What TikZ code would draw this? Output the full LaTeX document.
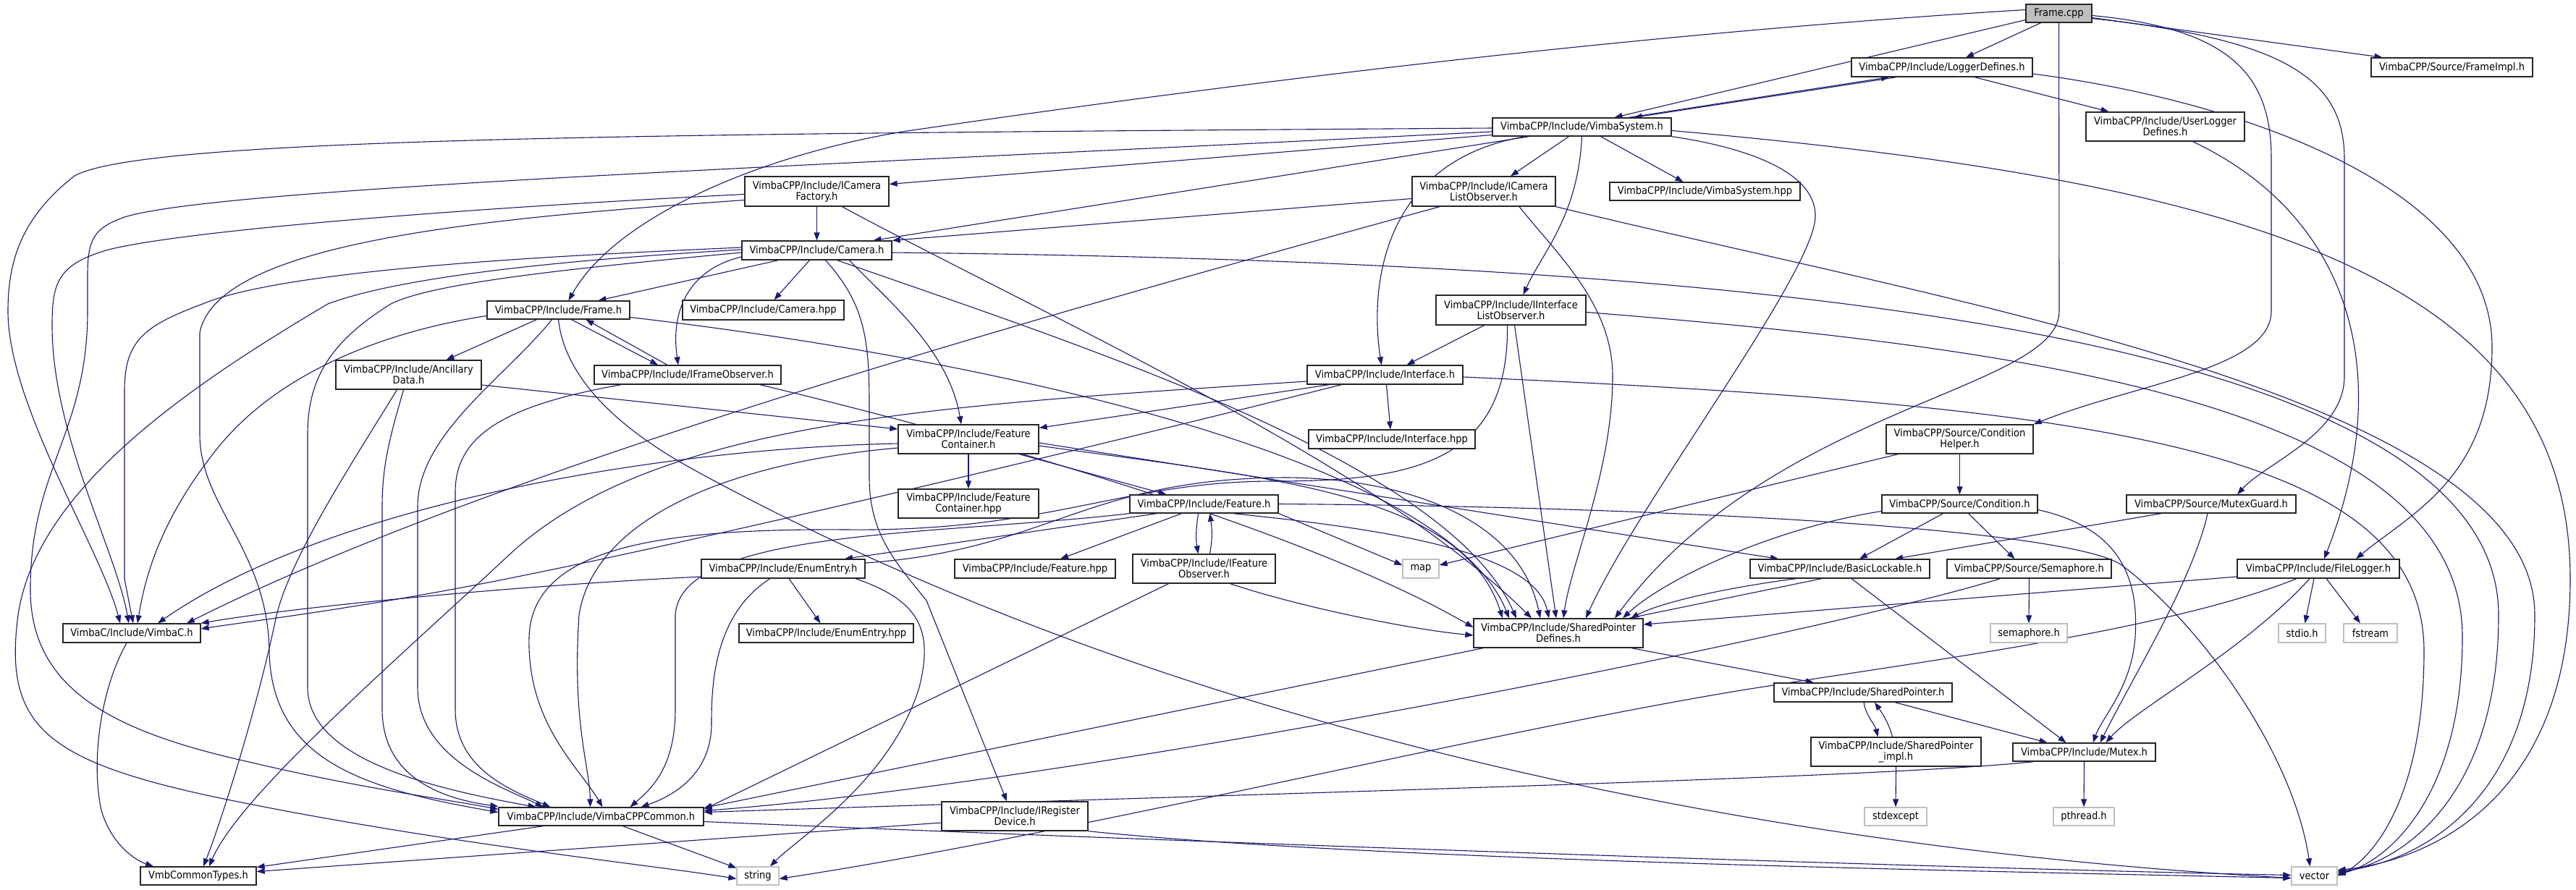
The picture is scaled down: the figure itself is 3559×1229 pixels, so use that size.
\documentclass[tikz,border=0pt]{standalone}
\usepackage{fontspec}
\usetikzlibrary{arrows.meta}
\newfontfamily\dxfont{DejaVu Sans Condensed}
\definecolor{edgec}{HTML}{191970}
\definecolor{gbord}{HTML}{BFBFBF}
\definecolor{gfill}{HTML}{BFBFBF}
\pgfdeclarelayer{bg}
\pgfsetlayers{bg,main}
\tikzset{
  nd/.style={draw=black!85, line width=1.3pt, fill=white, inner sep=0pt, align=center,
    font=\dxfont\fontsize{14.5}{15}\selectfont},
  gnd/.style={nd, draw=gbord},
  e/.style={draw=edgec, line width=1.1pt, -{Triangle[length=11pt,width=8pt]}},
}
\begin{document}
\begin{tikzpicture}[x=1pt,y=-1pt]
\useasboundingbox (0,0) rectangle (3559,1229);
% nodes
\node[nd,fill=gfill,minimum width=91pt,minimum height=25pt] (F) at (2844.5,18.5) {Frame.cpp};
\node[nd,minimum width=250pt,minimum height=26pt] (LD) at (2683,93) {VimbaCPP/Include/LoggerDefines.h};
\node[nd,minimum width=219pt,minimum height=40pt] (ULD) at (2991.5,175) {VimbaCPP/Include/UserLogger\\Defines.h};
\node[nd,minimum width=223pt,minimum height=26pt] (FI) at (3387.5,93) {VimbaCPP/Source/FrameImpl.h};
\node[nd,minimum width=247pt,minimum height=25pt] (VS) at (2185.5,175.5) {VimbaCPP/Include/VimbaSystem.h};
\node[nd,minimum width=198pt,minimum height=41pt] (ICLO) at (2050,264.5) {VimbaCPP/Include/ICamera\\ListObserver.h};
\node[nd,minimum width=263pt,minimum height=25pt] (VSH) at (2355.5,264.5) {VimbaCPP/Include/VimbaSystem.hpp};
\node[nd,minimum width=199pt,minimum height=41pt] (ICF) at (1128.5,264.5) {VimbaCPP/Include/ICamera\\Factory.h};
\node[nd,minimum width=207pt,minimum height=26pt] (CAM) at (1128.5,346) {VimbaCPP/Include/Camera.h};
\node[nd,minimum width=223pt,minimum height=27pt] (CAMH) at (1054.5,428.5) {VimbaCPP/Include/Camera.hpp};
\node[nd,minimum width=197pt,minimum height=25pt] (FRH) at (771.5,428.5) {VimbaCPP/Include/Frame.h};
\node[nd,minimum width=201pt,minimum height=40pt] (ANC) at (564.5,518) {VimbaCPP/Include/Ancillary\\Data.h};
\node[nd,minimum width=258pt,minimum height=26pt] (IFO) at (950,518) {VimbaCPP/Include/IFrameObserver.h};
\node[nd,minimum width=194pt,minimum height=40pt] (FC) at (1338,607) {VimbaCPP/Include/Feature\\Container.h};
\node[nd,minimum width=194pt,minimum height=40pt] (FCH) at (1338,696) {VimbaCPP/Include/Feature\\Container.hpp};
\node[nd,minimum width=205pt,minimum height=25pt] (FEA) at (1663.5,696.5) {VimbaCPP/Include/Feature.h};
\node[nd,minimum width=226pt,minimum height=26pt] (EE) at (1082,786) {VimbaCPP/Include/EnumEntry.h};
\node[nd,minimum width=222pt,minimum height=26pt] (FEAH) at (1430,786) {VimbaCPP/Include/Feature.hpp};
\node[nd,minimum width=197pt,minimum height=40pt] (IFEO) at (1663.5,786) {VimbaCPP/Include/IFeature\\Observer.h};
\node[nd,minimum width=207pt,minimum height=41pt] (IILO) at (2087.5,428.5) {VimbaCPP/Include/IInterface\\ListObserver.h};
\node[nd,minimum width=215pt,minimum height=26pt] (IFA) at (1913.5,518) {VimbaCPP/Include/Interface.h};
\node[nd,minimum width=230pt,minimum height=26pt] (IFAH) at (1923,607) {VimbaCPP/Include/Interface.hpp};
\node[gnd,minimum width=50pt,minimum height=26pt] (MAP) at (1963,786) {map};
\node[nd,minimum width=248pt,minimum height=26pt] (BL) at (2542,786) {VimbaCPP/Include/BasicLockable.h};
\node[nd,minimum width=203pt,minimum height=40pt] (CH) at (2707.5,607) {VimbaCPP/Source/Condition\\Helper.h};
\node[nd,minimum width=215pt,minimum height=25pt] (COND) at (2707.5,696.5) {VimbaCPP/Source/Condition.h};
\node[nd,minimum width=234pt,minimum height=25pt] (MG) at (3055,696.5) {VimbaCPP/Source/MutexGuard.h};
\node[nd,minimum width=227pt,minimum height=26pt] (SEM) at (2803.5,786) {VimbaCPP/Source/Semaphore.h};
\node[nd,minimum width=224pt,minimum height=26pt] (FL) at (3203,786) {VimbaCPP/Include/FileLogger.h};
\node[nd,minimum width=190pt,minimum height=26pt] (VC) at (182,875) {VimbaC/Include/VimbaC.h};
\node[nd,minimum width=160pt,minimum height=25pt] (VCT) at (274,1210.5) {VmbCommonTypes.h};
\node[nd,minimum width=283pt,minimum height=25pt] (VCC) at (830.5,1128.5) {VimbaCPP/Include/VimbaCPPCommon.h};
\node[nd,minimum width=241pt,minimum height=26pt] (EEH) at (1141.5,875) {VimbaCPP/Include/EnumEntry.hpp};
\node[nd,minimum width=202pt,minimum height=40pt] (IRD) at (1402,1128) {VimbaCPP/Include/IRegister\\Device.h};
\node[gnd,minimum width=58pt,minimum height=25pt] (STR) at (1047,1210.5) {string};
\node[nd,minimum width=234pt,minimum height=40pt] (SPD) at (2153,875) {VimbaCPP/Include/SharedPointer\\Defines.h};
\node[nd,minimum width=246pt,minimum height=26pt] (SP) at (2574,957) {VimbaCPP/Include/SharedPointer.h};
\node[nd,minimum width=235pt,minimum height=40pt] (SPI) at (2619.5,1039) {VimbaCPP/Include/SharedPointer\\\_impl.h};
\node[gnd,minimum width=86pt,minimum height=25pt] (STDEX) at (2619,1128.5) {stdexcept};
\node[gnd,minimum width=106pt,minimum height=26pt] (SEMH) at (2803,875) {semaphore.h};
\node[gnd,minimum width=65pt,minimum height=26pt] (STDIO) at (3180.5,875) {stdio.h};
\node[gnd,minimum width=74pt,minimum height=26pt] (FSTR) at (3275,875) {fstream};
\node[nd,minimum width=197pt,minimum height=25pt] (MUT) at (2879.5,1039.5) {VimbaCPP/Include/Mutex.h};
\node[gnd,minimum width=84pt,minimum height=25pt] (PTH) at (2879,1128.5) {pthread.h};
\node[gnd,minimum width=63pt,minimum height=25pt] (VEC) at (3197.5,1210.5) {vector};

\begin{pgfonlayer}{bg}
\fill[white] (0,0) rectangle (3559,1229);
% Frame.cpp
\draw[e] ([yshift=5pt]F.west) .. controls (2200,50) and (1600,130) .. (1247,182) .. controls (1050,215) and (850,300) .. ([xshift=14pt]FRH.north);
\draw[e] ([xshift=-25pt]F.south) -- ([xshift=33pt]LD.north);
\draw[e] ([yshift=-9pt]F.west) -- ([xshift=45pt]VS.north);
\draw[e] ([yshift=-6pt]F.east) -- ([xshift=-96pt]FI.north);
\draw[e] (F.south) -- (2845,430) .. controls (2845,540) and (2450,560) .. ([xshift=78pt]SPD.north);
\draw[e] ([yshift=-3pt]F.east) .. controls (3090,40) and (3138,110) .. (3138,220) -- (3138,430) .. controls (3138,510) and (2950,530) .. (CH.north east);
\draw[e] ([yshift=-7pt]F.east) .. controls (3160,55) and (3239,110) .. (3239,220) -- (3239,520) .. controls (3239,600) and (3130,640) .. ([xshift=36pt]MG.north);
% LoggerDefines
\draw[e] ([xshift=65pt]VS.north) -- ([xshift=-73pt]LD.south);
\draw[e] ([xshift=-63pt]LD.south) -- ([xshift=72pt]VS.north);
\draw[e] ([xshift=45pt]LD.south) -- ([xshift=-78pt]ULD.north);
\draw[e] ([yshift=-9pt]LD.east) .. controls (3100,140) and (3443,260) .. (3443,480) .. controls (3443,660) and (3330,710) .. ([xshift=52pt]FL.north);
\draw[e] ([xshift=38pt]ULD.south) .. controls (3250,300) and (3310,520) .. ([xshift=8pt]FL.north);
% VimbaSystem
\draw[e] ([yshift=-11pt]VS.west) -- ([yshift=10pt]ICF.east);
\draw[e] ([xshift=-73pt]VS.south) -- ([xshift=78pt]CAM.north);
\draw[e] ([xshift=-18pt]VS.south) -- ([xshift=37pt]ICLO.north);
\draw[e] ([xshift=26pt]VS.south) -- ([xshift=-30pt]VSH.north);
\draw[e] (VS.south) .. controls (2180,300) and (2130,350) .. ([xshift=17pt]IILO.north);
\draw[e] ([xshift=-78pt]VS.south) .. controls (1920,220) and (1890,380) .. ([xshift=-5pt]IFA.north);
\draw[e] (VS.south east) .. controls (2420,205) and (2510,240) .. (2508,300) .. controls (2505,380) and (2260,700) .. ([xshift=38pt]SPD.north);
\draw[e] ([yshift=-5pt]VS.east) .. controls (3100,250) and (3551,380) .. (3551,800) .. controls (3551,1110) and (3350,1190) .. ([yshift=8pt]VEC.east);
\draw[e] ([yshift=-1.5pt]VS.west) .. controls (900,185) and (200,190) .. (103,243) .. controls (30,300) and (11,360) .. (11,430) .. controls (11,560) and (140,760) .. ([xshift=-16pt]VC.north);
\draw[e] ([yshift=-6.5pt]VS.west) .. controls (1100,230) and (300,260) .. (172,300) .. controls (130,315) and (121,330) .. (121,380) -- (121,430) .. controls (121,600) and (40,650) .. (42,820) .. controls (45,950) and (150,1010) .. (344,1053) .. controls (500,1090) and (620,1105) .. ([yshift=10pt]VCC.west);
% ICameraFactory
\draw[e] (ICF.south) -- (CAM.north);
\draw[e] ([xshift=35pt]ICF.south) .. controls (1450,440) and (1900,640) .. ([xshift=-37pt]SPD.north);
\draw[e] ([yshift=-4pt]ICF.west) .. controls (600,290) and (250,320) .. (150,345) .. controls (80,365) and (72,390) .. (72,450) .. controls (72,600) and (160,760) .. ([xshift=-4pt]VC.north);
\draw[e] ([yshift=-12pt]ICF.west) .. controls (700,300) and (300,330) .. (276,460) -- (276,600) .. controls (276,700) and (370,760) .. (372,900) .. controls (375,1050) and (500,1090) .. ([yshift=6pt]VCC.west);
% ICameraListObserver
\draw[e] ([yshift=-10pt]ICLO.west) -- (CAM.north east);
\draw[e] ([xshift=49pt]ICLO.south) .. controls (2150,350) and (2228,420) .. (2228,520) .. controls (2228,650) and (2170,780) .. ([xshift=7pt]SPD.north);
\draw[e] ([xshift=-61pt]ICLO.south) .. controls (1500,420) and (700,640) .. ([xshift=76pt]VC.north);
\draw[e] (ICLO.south east) .. controls (2700,420) and (3502,550) .. (3502,850) .. controls (3502,1100) and (3350,1190) .. ([yshift=6pt]VEC.east);
% Camera
\draw[e] ([xshift=-10pt]CAM.south) -- ([xshift=15pt]CAMH.north);
\draw[e] ([xshift=-53pt]CAM.south) -- ([xshift=55pt]FRH.north);
\draw[e] ([yshift=-9pt]CAM.west) .. controls (960,370) and (925,420) .. ([xshift=-13pt]IFO.north);
\draw[e] ([xshift=45pt]CAM.south) .. controls (1220,410) and (1310,480) .. ([xshift=-10pt]FC.north);
\draw[e] ([xshift=12pt]CAM.south) .. controls (1195,420) and (1201,470) .. (1201,560) -- (1201,660) .. controls (1201,740) and (1240,780) .. (1280,830) -- ([xshift=-11pt]IRD.north);
\draw[e] ([xshift=28pt]CAM.south) .. controls (1500,480) and (2000,640) .. ([xshift=-58pt]SPD.north);
\draw[e] ([yshift=-3pt]CAM.east) .. controls (2200,360) and (3452,420) .. (3452,850) .. controls (3452,1100) and (3320,1190) .. ([yshift=4pt]VEC.east);
\draw[e] ([yshift=4pt]CAM.west) .. controls (800,352) and (400,370) .. (280,420) .. controls (200,450) and (172,470) .. (172,540) -- (172,800) -- ([xshift=2pt]VC.north);
\draw[e] ([yshift=1pt]CAM.west) .. controls (800,358) and (560,380) .. (453,420) .. controls (250,540) and (50,680) .. (25,850) .. controls (5,1000) and (60,1050) .. (290,1100) .. controls (600,1165) and (900,1195) .. ([yshift=-4pt]STR.west);
\draw[e] ([yshift=-3pt]CAM.west) .. controls (800,370) and (600,390) .. (540,420) .. controls (460,470) and (425,520) .. (425,600) -- (425,950) .. controls (425,1050) and (600,1090) .. ([xshift=-90pt]VCC.north);
% Frame.h
\draw[e] ([xshift=-30pt]FRH.south) -- ([xshift=52pt]ANC.north);
\draw[e] ([xshift=18pt]FRH.south) -- ([xshift=-41pt]IFO.north);
\draw[e] ([xshift=-28pt]IFO.north) -- ([xshift=38pt]FRH.south);
\draw[e] ([yshift=-8pt]FRH.west) .. controls (520,460) and (380,520) .. (300,620) .. controls (220,720) and (200,800) .. ([xshift=8pt]VC.north);
\draw[e] ([xshift=-9pt]FRH.south) .. controls (700,520) and (577,600) .. (577,700) -- (577,950) .. controls (577,1050) and (700,1090) .. ([xshift=-80pt]VCC.north);
\draw[e] (FRH.south) .. controls (780,520) and (850,590) .. (960,650) .. controls (1600,1000) and (2400,1170) .. ([yshift=-3pt]VEC.west);
\draw[e] ([yshift=-10pt]FRH.east) .. controls (1400,500) and (2000,640) .. ([xshift=-68pt]SPD.north);
% AncillaryData
\draw[e] ([yshift=-14pt]ANC.east) -- ([yshift=14pt]FC.west);
\draw[e] ([xshift=-16pt]ANC.south) .. controls (480,650) and (395,780) .. (380,860) .. controls (350,1000) and (300,1150) .. ([xshift=7pt]VCT.north);
\draw[e] ([xshift=-7pt]ANC.south) .. controls (540,600) and (528,640) .. (528,700) -- (528,980) .. controls (528,1080) and (620,1105) .. ([yshift=14pt]VCC.west);
% IFrameObserver
\draw[e] ([xshift=100pt]IFO.south) .. controls (1500,640) and (1850,760) .. ([yshift=8pt]SPD.west);
\draw[e] ([xshift=-92pt]IFO.south) .. controls (700,560) and (629,600) .. (629,680) -- (629,980) .. controls (629,1060) and (700,1090) .. ([xshift=-70pt]VCC.north);
% FeatureContainer
\draw[e] (FC.south) -- (FCH.north);
\draw[e] ([xshift=70pt]FC.south) -- ([xshift=-52pt]FEA.north);
\draw[e] ([yshift=-6pt]FC.west) .. controls (900,620) and (450,700) .. ([xshift=36pt]VC.north);
\draw[e] ([yshift=-12pt]FC.west) .. controls (1000,640) and (820,720) .. (800,850) .. controls (790,1000) and (815,1060) .. ([xshift=-15pt]VCC.north);
\draw[e] ([yshift=-5pt]FC.east) -- ([xshift=-85pt]BL.north);
\draw[e] ([yshift=-9pt]FC.east) .. controls (1750,660) and (2020,680) .. ([xshift=-77pt]SPD.north);
% Feature
\draw[e] ([xshift=-31pt]FEA.south) -- ([xshift=35pt]FEAH.north);
\draw[e] ([xshift=-8pt]FEA.south) .. controls (1652,735) and (1652,745) .. ([xshift=-8pt]IFEO.north);
\draw[e] ([xshift=8pt]IFEO.north) .. controls (1675,745) and (1675,735) .. ([xshift=8pt]FEA.south);
\draw[e] ([xshift=-65pt]FEA.south) -- ([xshift=85pt]EE.north);
\draw[e] (FEA.south east) -- ([yshift=5pt]MAP.west);
\draw[e] (FEA.east) .. controls (2300,700) and (2850,730) .. (2930,780) .. controls (3050,870) and (3170,1050) .. ([xshift=-6pt]VEC.north);
\draw[e] ([xshift=40pt]FEA.south) .. controls (1900,730) and (2120,760) .. ([xshift=-13pt]SPD.north);
\draw[e] (FEA.south west) .. controls (1300,740) and (940,730) .. (933,850) -- (933,980) .. controls (933,1060) and (900,1090) .. ([xshift=40pt]VCC.north);
% EnumEntry
\draw[e] ([xshift=8pt]EE.south) -- ([xshift=-8pt]EEH.north);
\draw[e] ([yshift=-11pt]EE.west) .. controls (700,810) and (400,840) .. (VC.north east);
\draw[e] ([xshift=-18pt]EE.south) .. controls (985,850) and (983,950) .. (983,1000) .. controls (983,1070) and (930,1100) .. ([xshift=55pt]VCC.north);
\draw[e] ([xshift=100pt]EE.south) .. controls (1270,830) and (1290,870) .. (1270,950) .. controls (1230,1080) and (1100,1160) .. ([xshift=17pt]STR.north);
\draw[e] ([yshift=8pt]EE.east) .. controls (1450,760) and (1500,660) .. (1780,660) .. controls (1950,662) and (2100,720) .. ([xshift=-25pt]SPD.north);
% IFeatureObserver
\draw[e] ([xshift=36pt]IFEO.south) .. controls (1800,840) and (1950,870) .. ([yshift=-3pt]SPD.west);
\draw[e] ([xshift=-49pt]IFEO.south) -- ([yshift=10pt]VCC.east);
% IInterfaceListObserver
\draw[e] ([xshift=-37pt]IILO.south) -- ([xshift=30pt]IFA.north);
\draw[e] ([xshift=5pt]IILO.south) -- ([xshift=-3pt]SPD.north);
\draw[e] ([xshift=-5pt]IILO.south) .. controls (2085,640) and (1950,665) .. (1760,665) .. controls (1550,665) and (1450,735) .. (1170,732) .. controls (900,730) and (735,760) .. (731,880) .. controls (728,1000) and (800,1060) .. ([xshift=2pt]VCC.north);
\draw[e] ([yshift=-3pt]IILO.east) .. controls (2800,480) and (3402,560) .. (3402,880) .. controls (3402,1100) and (3300,1190) .. ([yshift=2pt]VEC.east);
% Interface
\draw[e] ([xshift=2pt]IFA.south) -- ([xshift=-2pt]IFAH.north);
\draw[e] ([xshift=-77pt]IFA.south) -- ([yshift=-5pt]FC.north east);
\draw[e] ([yshift=-9pt]IFA.west) .. controls (1300,560) and (900,580) .. (700,770) .. controls (550,910) and (330,1100) .. ([xshift=15pt]VCT.north);
\draw[e] ([xshift=-60pt]IFA.south) .. controls (1500,620) and (1000,740) .. (700,800) .. controls (500,840) and (350,858) .. ([yshift=6pt]VC.east);
\draw[e] ([yshift=-3pt]IFA.east) .. controls (2900,560) and (3349,620) .. (3349,900) .. controls (3349,1100) and (3280,1185) .. (VEC.east);
% ConditionHelper / Condition
\draw[e] (CH.south) -- (COND.north);
\draw[e] ([xshift=-85pt]CH.south) -- ([yshift=5pt]MAP.east);
\draw[e] ([xshift=-23pt]COND.south) -- ([xshift=27pt]BL.north);
\draw[e] ([xshift=12pt]COND.south) -- ([xshift=-20pt]SEM.north);
\draw[e] ([yshift=-10pt]COND.west) .. controls (2450,730) and (2300,800) .. ([xshift=89pt]SPD.north);
\draw[e] ([yshift=-8pt]COND.east) .. controls (2930,730) and (2955,800) .. (2950,880) .. controls (2945,950) and (2905,990) .. ([xshift=12pt]MUT.north);
% MutexGuard
\draw[e] ([xshift=-69pt]MG.south) -- ([xshift=76pt]BL.north);
\draw[e] ([xshift=-5pt]MG.south) .. controls (3030,800) and (2950,930) .. ([xshift=22pt]MUT.north);
% Semaphore
\draw[e] (SEM.south) -- (SEMH.north);
\draw[e] ([xshift=-40pt]SEM.south) .. controls (2500,880) and (1500,1080) .. ([yshift=8pt]VCC.east);
% BasicLockable
\draw[e] ([xshift=16pt]BL.south) -- ([xshift=-25pt]MUT.north);
\draw[e] ([xshift=-25pt]BL.south) -- ([yshift=12pt]VCC.east);
\draw[e] ([xshift=-60pt]BL.south) .. controls (2400,810) and (2300,830) .. ([xshift=100pt]SPD.north);
% FileLogger
\draw[e] ([yshift=-11pt]FL.west) -- ([yshift=12pt]SPD.east);
\draw[e] ([xshift=-6pt]FL.south) -- ([xshift=4pt]STDIO.north);
\draw[e] ([xshift=11pt]FL.south) -- ([xshift=-14pt]FSTR.north);
\draw[e] ([xshift=-12pt]FL.south) .. controls (3100,900) and (2950,980) .. ([xshift=30pt]MUT.north);
\draw[e] ([xshift=-30pt]FL.south) .. controls (3000,870) and (2650,915) .. (2450,947) .. controls (2100,1000) and (1500,1150) .. ([yshift=-4pt]STR.east);
% SharedPointer
\draw[e] ([xshift=101pt]SPD.south) -- ([xshift=-68pt]SP.north);
\draw[e] ([xshift=1pt]SP.south) .. controls (2578,990) and (2590,1000) .. ([xshift=-25pt]SPI.north);
\draw[e] ([xshift=-5pt]SPI.north) .. controls (2610,1000) and (2600,985) .. ([xshift=16pt]SP.south);
\draw[e] ([xshift=44pt]SP.south) -- ([xshift=-51pt]MUT.north);
\draw[e] (SPI.south) -- (STDEX.north);
% Mutex
\draw[e] (MUT.south) -- (PTH.north);
\draw[e] ([xshift=-70pt]MUT.south) .. controls (2600,1075) and (1800,1095) .. ([yshift=6pt]VCC.east);
% VimbaCPPCommon
\draw[e] ([xshift=-80pt]VCC.south) -- ([yshift=12pt]VCT.east);
\draw[e] ([xshift=30pt]VCC.south) -- ([yshift=11pt]STR.west);
\draw[e] ([yshift=-7pt]VCC.east) .. controls (1800,1170) and (2700,1200) .. ([yshift=1pt]VEC.west);
% IRegisterDevice
\draw[e] ([yshift=-9pt]IRD.west) -- ([yshift=6pt]VCT.east);
\draw[e] (IRD.south east) .. controls (1900,1190) and (2800,1205) .. ([yshift=-3pt]VEC.west);
% VimbaC
\draw[e] ([xshift=-7pt]VC.south) .. controls (140,950) and (125,1050) .. (140,1120) .. controls (155,1170) and (190,1190) .. ([xshift=-62pt]VCT.north);
\end{pgfonlayer}
\end{tikzpicture}
\end{document}
